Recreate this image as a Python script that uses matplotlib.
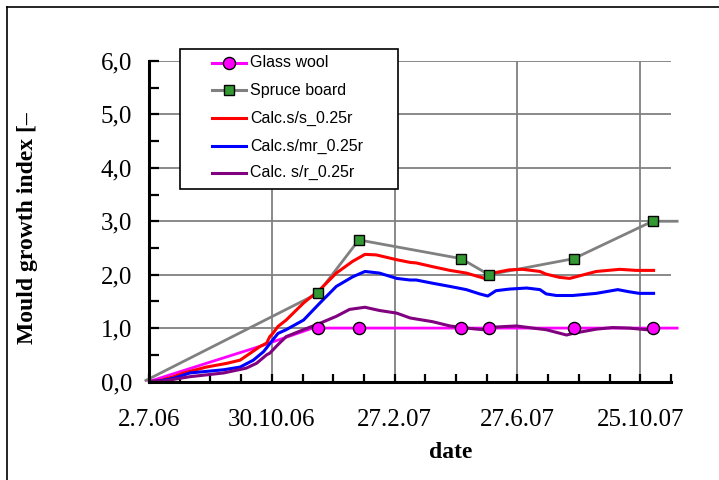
import matplotlib
matplotlib.use("Agg")
import matplotlib.pyplot as plt
from matplotlib.lines import Line2D
from matplotlib.patches import Rectangle

# x values are days after 2.7.06
x_ticks = [0, 120, 240, 360, 480]
x_tick_labels = ["2.7.06", "30.10.06", "27.2.07", "27.6.07", "25.10.07"]
y_ticks = [0, 1, 2, 3, 4, 5, 6]
y_tick_labels = ["0,0", "1,0", "2,0", "3,0", "4,0", "5,0", "6,0"]

# measured points
meas_days = [165, 205, 305, 332, 415, 492]
glass_wool = [1.0, 1.0, 1.0, 1.0, 1.0, 1.0]
spruce_board = [1.65, 2.65, 2.3, 2.0, 2.3, 3.0]

# connecting lines of the measurements
glass_line_days = [0, 107, 160, 165, 205, 305, 332, 415, 492, 516]
glass_line_vals = [0.0, 0.65, 1.0, 1.0, 1.0, 1.0, 1.0, 1.0, 1.0, 1.0]
spruce_line_days = [-3, 165, 205, 305, 332, 415, 492, 516]
spruce_line_vals = [0.02, 1.65, 2.65, 2.3, 2.0, 2.3, 3.0, 3.0]

# calculated curves
red_days = [0, 11, 24, 34, 56, 76, 89, 99, 108, 115, 118, 121, 126, 134, 151, 167, 183,
            199, 211, 222, 242, 255, 261, 277, 294, 310, 328, 336, 352, 365, 382, 388,
            401, 411, 421, 437, 460, 476, 493]
red_vals = [0.0, 0.02, 0.09, 0.16, 0.27, 0.34, 0.40, 0.53, 0.65, 0.72, 0.84, 0.90, 1.03,
            1.15, 1.47, 1.72, 2.03, 2.25, 2.38, 2.37, 2.28, 2.23, 2.22, 2.15, 2.08, 2.03,
            1.93, 2.03, 2.09, 2.10, 2.06, 2.01, 1.95, 1.93, 1.98, 2.06, 2.10, 2.08, 2.08]

blue_days = [0, 11, 24, 40, 73, 89, 102, 112, 121, 126, 134, 151, 167, 183, 199, 211,
             225, 242, 255, 261, 277, 294, 310, 323, 331, 339, 352, 369, 382, 388, 398,
             414, 437, 458, 469, 479, 493]
blue_vals = [0.0, 0.01, 0.06, 0.16, 0.22, 0.27, 0.40, 0.56, 0.78, 0.90, 0.97, 1.15, 1.47,
             1.78, 1.96, 2.06, 2.03, 1.93, 1.90, 1.90, 1.84, 1.78, 1.72, 1.64, 1.60,
             1.70, 1.73, 1.75, 1.72, 1.64, 1.61, 1.61, 1.65, 1.72, 1.68, 1.65, 1.65]

purple_days = [0, 11, 40, 73, 95, 105, 115, 118, 126, 134, 151, 167, 183, 196, 211, 225,
               242, 255, 261, 277, 294, 310, 326, 339, 359, 375, 388, 408, 414, 437, 453,
               469, 486, 493]
purple_vals = [0.0, 0.0, 0.09, 0.16, 0.25, 0.34, 0.50, 0.53, 0.69, 0.84, 0.97, 1.09, 1.22,
               1.35, 1.39, 1.33, 1.28, 1.19, 1.17, 1.12, 1.04, 1.00, 0.97, 1.02, 1.04,
               1.00, 0.97, 0.87, 0.90, 0.98, 1.01, 1.00, 0.97, 0.97]

legend_labels = ["Glass wool", "Spruce board", "Calc.s/s_0.25r", "Calc.s/mr_0.25r",
                 "Calc. s/r_0.25r"]

SERIF = "Liberation Serif"
SANS = "Liberation Sans"
GRAY = "#808080"
MAGENTA = "#FF00FF"
GREEN = "#339933"
W, H = 719, 480


def fx(px):
    return px / W


def fy(py):
    return 1 - py / H


fig = plt.figure(figsize=(7.19, 4.8), dpi=100)
ax = fig.add_axes([fx(149), 98.5 / H, 522 / W, 320.5 / H])

ax.set_xlim(0, 510)
ax.set_ylim(0, 6)

# grid
for xv in x_ticks[1:]:
    ax.axvline(xv, color=GRAY, lw=1.3, zorder=1)
for yv in y_ticks[1:]:
    ax.axhline(yv, color=GRAY, lw=1.3, zorder=1)

ax.plot(spruce_line_days, spruce_line_vals, color=GRAY, lw=2, zorder=2, clip_on=False)
ax.plot(glass_line_days, glass_line_vals, color=MAGENTA, lw=2, zorder=2, clip_on=False)
ax.plot(red_days, red_vals, color="#FF0000", lw=2.2, zorder=3)
ax.plot(blue_days, blue_vals, color="#0000FF", lw=2.2, zorder=3)
ax.plot(purple_days, purple_vals, color="#800080", lw=2.2, zorder=3)
ax.plot(meas_days, glass_wool, ls="none", marker="o", ms=8.7, mfc=MAGENTA,
        mec="black", mew=1, zorder=5)
ax.plot(meas_days, spruce_board, ls="none", marker="s", ms=7.5, mfc=GREEN,
        mec="black", mew=1, zorder=5)

for side in ["top", "right"]:
    ax.spines[side].set_visible(False)
for side in ["left", "bottom"]:
    ax.spines[side].set_linewidth(2.2)
    ax.spines[side].set_zorder(6)

ax.set_xticks(x_ticks)
ax.set_xticklabels(x_tick_labels, fontfamily=SERIF, fontsize=18)
ax.set_xticks(range(0, 511, 30), minor=True)
ax.set_yticks(y_ticks)
ax.set_yticklabels(y_tick_labels, fontfamily=SERIF, fontsize=18)
ax.set_yticks([v / 2 for v in range(13)], minor=True)
ax.tick_params(axis="x", which="both", direction="in", length=6, width=1.6, pad=20)
ax.tick_params(axis="y", which="both", direction="in", length=7, width=1.6, pad=12)

# axis titles sit where the original put them, not centred on the axes
fig.text(fx(451), fy(453), "date", ha="center", va="center", fontfamily=SERIF,
         fontsize=17, fontweight="bold")
fig.text(fx(28), fy(228), "Mould growth index [\u2013", rotation=90,
         ha="center", va="center", fontfamily=SERIF, fontsize=17, fontweight="bold")

# legend box, drawn by hand to match the original layout
fig.add_artist(Rectangle((fx(180), fy(189)), (398 - 180) / W, (189 - 49) / H,
                         facecolor="white", edgecolor="black", lw=1.2, zorder=10))
row_y = [62.5, 90, 118, 146, 172.5]
handle_styles = [
    dict(color=MAGENTA, marker="o", ms=8.7, mfc=MAGENTA, mec="black"),
    dict(color=GRAY, marker="s", ms=7.5, mfc=GREEN, mec="black"),
    dict(color="#FF0000"),
    dict(color="#0000FF"),
    dict(color="#800080"),
]
for yy, label, style in zip(row_y, legend_labels, handle_styles):
    marker = style.pop("marker", None)
    ms = style.pop("ms", 0)
    mfc = style.pop("mfc", None)
    mec = style.pop("mec", None)
    fig.add_artist(Line2D([fx(212), fx(246)], [fy(yy), fy(yy)], lw=2.2, zorder=11, **style))
    if marker:
        fig.add_artist(Line2D([fx(229)], [fy(yy)], ls="none", marker=marker, ms=ms,
                              mfc=mfc, mec=mec, mew=1, zorder=12))
    fig.text(fx(250), fy(yy), label, ha="left", va="center", fontfamily=SANS,
             fontsize=11.5, zorder=12)

# outer frame of the chart area
fig.add_artist(Line2D([fx(7), fx(7)], [0, fy(7)], color="black", lw=1.2))
fig.add_artist(Line2D([fx(7), 1], [fy(7), fy(7)], color="black", lw=1.2))

fig.savefig("out.png", dpi=100)
